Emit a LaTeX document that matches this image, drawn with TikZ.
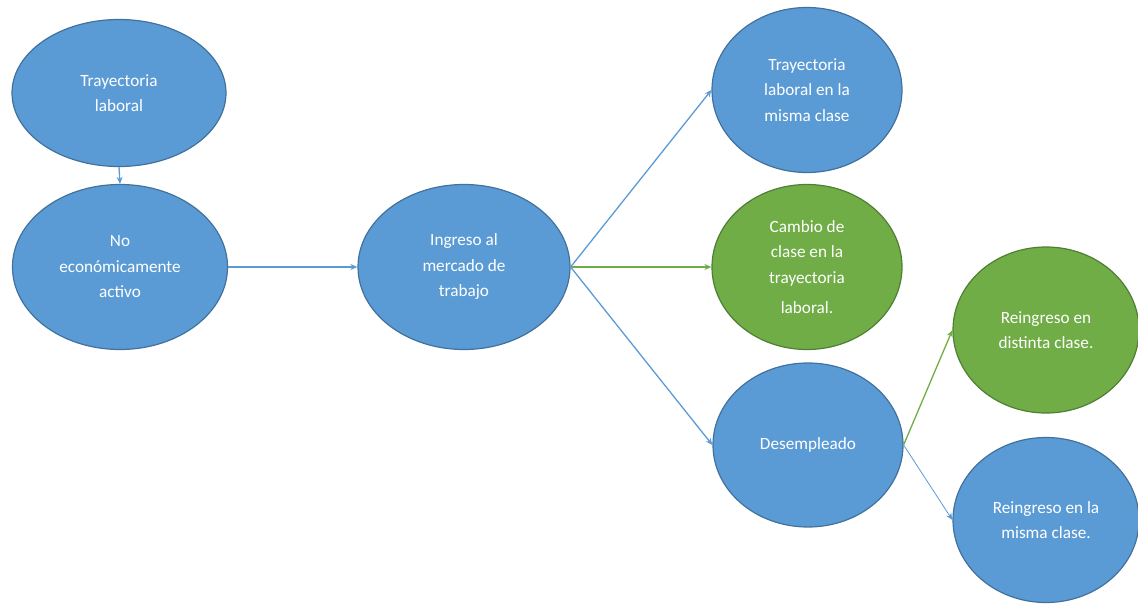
\documentclass[tikz,border=0pt]{standalone}
\usepackage{fontspec}
\setmainfont{Carlito}
\usetikzlibrary{shapes.geometric,arrows.meta}
\definecolor{bfill}{HTML}{5B9BD5}
\definecolor{bdraw}{HTML}{41719C}
\definecolor{gfill}{HTML}{70AD47}
\definecolor{gdraw}{HTML}{507E32}
\tikzset{
  bubble/.style={ellipse, inner sep=0pt, align=center, text=white,
    font=\fontsize{17.2}{25.5}\selectfont, line width=1.2pt},
  bluebub/.style={bubble, fill=bfill, draw=bdraw},
  greenbub/.style={bubble, fill=gfill, draw=gdraw},
  conn/.style={line width=1.3pt, -{Stealth[length=7pt,width=6pt]}},
  bconn/.style={conn, draw=bfill},
  gconn/.style={conn, draw=gfill},
}
\begin{document}
\begin{tikzpicture}[x=1pt,y=-1pt]
\useasboundingbox (0,0) rectangle (1138,604);
\node[bluebub, minimum width=214pt, minimum height=147pt] (n1) at (119,93) {Trayectoria\\laboral};
\node[bluebub, minimum width=215pt, minimum height=165pt] (n2) at (120,267) {No\\económicamente\\activo};
\node[bluebub, minimum width=212pt, minimum height=165pt] (n3) at (464,267) {Ingreso al\\mercado de\\trabajo};
\node[bluebub, minimum width=190pt, minimum height=165pt] (n4) at (807,90) {Trayectoria\\laboral en la\\misma clase};
\node[greenbub, minimum width=190pt, minimum height=165pt] (n5) at (807,267) {Cambio de\\clase en la\\trayectoria\\[5pt]laboral.};
\node[bluebub, minimum width=190pt, minimum height=164pt] (n6) at (808,445) {Desempleado};
\node[greenbub, minimum width=186pt, minimum height=166pt] (n7) at (1046,330) {Reingreso en\\distinta clase.};
\node[bluebub, minimum width=186pt, minimum height=165pt] (n8) at (1046,520) {Reingreso en la\\misma clase.};
\draw[bconn] (n1.south) -- (n2.north);
\draw[bconn] (n2.east) -- (n3.west);
\draw[bconn] (n3.east) -- (n4.west);
\draw[gconn] (n3.east) -- (n5.west);
\draw[bconn] (n3.east) -- (n6.west);
\draw[gconn] (n6.east) -- (n7.west);
\draw[bconn, line width=0.8pt] (n6.east) -- (n8.west);
\end{tikzpicture}
\end{document}
